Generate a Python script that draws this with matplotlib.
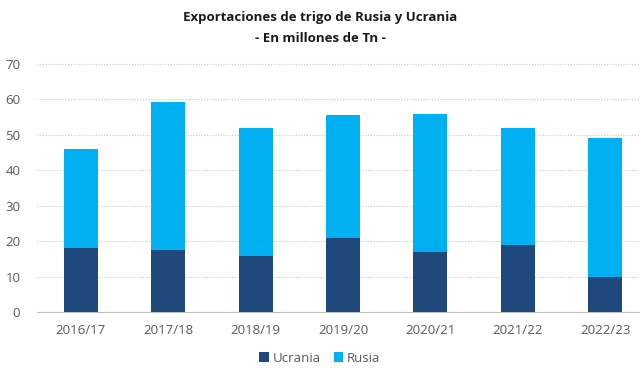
import numpy as np
import matplotlib.pyplot as plt

campanas = ["2016/17", "2017/18", "2018/19", "2019/20", "2020/21", "2021/22", "2022/23"]
ucrania = [18.0, 17.6, 15.9, 20.9, 16.8, 18.9, 9.8]
rusia = [28.0, 41.7, 35.9, 34.6, 39.2, 33.1, 39.3]

plt.rcParams['font.family'] = ['Open Sans', 'DejaVu Sans']

fig = plt.figure(figsize=(6.4, 3.68), dpi=100)
ax = fig.add_axes([37/640, 56/368, 612/640, 256/368])

x = np.arange(len(campanas))
ax.bar(x, ucrania, width=0.39, color="#1F497D", label="Ucrania", zorder=3)
ax.bar(x, rusia, width=0.39, bottom=ucrania, color="#00B0F0", label="Rusia", zorder=3)

ax.set_ylim(0, 70 * 256 / 248)
ax.set_xlim(-0.5, 6.5)
ax.set_yticks(range(0, 71, 10))
ax.set_xticks(x)
ax.set_xticklabels(campanas)
ax.yaxis.grid(True, linestyle=(0, (1, 1.5)), color="#C8C8C8", linewidth=0.8, zorder=0)
for s in ["top", "right", "left"]:
    ax.spines[s].set_visible(False)
ax.spines["bottom"].set_color("#BFBFBF")
ax.tick_params(axis="both", length=0, colors="#595959", labelsize=9.5)
ax.tick_params(axis="x", pad=9)
ax.tick_params(axis="y", pad=12)

fig.text(0.5, 1 - 17/368, "Exportaciones de trigo de Rusia y Ucrania", ha="center", va="center",
         fontsize=9.5, fontweight="bold", color="#1a1a1a")
fig.text(0.5, 1 - 38/368, "- En millones de Tn -", ha="center", va="center",
         fontsize=9.5, fontweight="bold", color="#1a1a1a")

fig.legend(loc="center", bbox_to_anchor=(0.5, 1 - 358/368), ncol=2, frameon=False,
           fontsize=9.5, handlelength=0.7, handleheight=0.7, handletextpad=0.3,
           columnspacing=1.0, labelcolor="#595959")

fig.savefig("out.png", dpi=100)
